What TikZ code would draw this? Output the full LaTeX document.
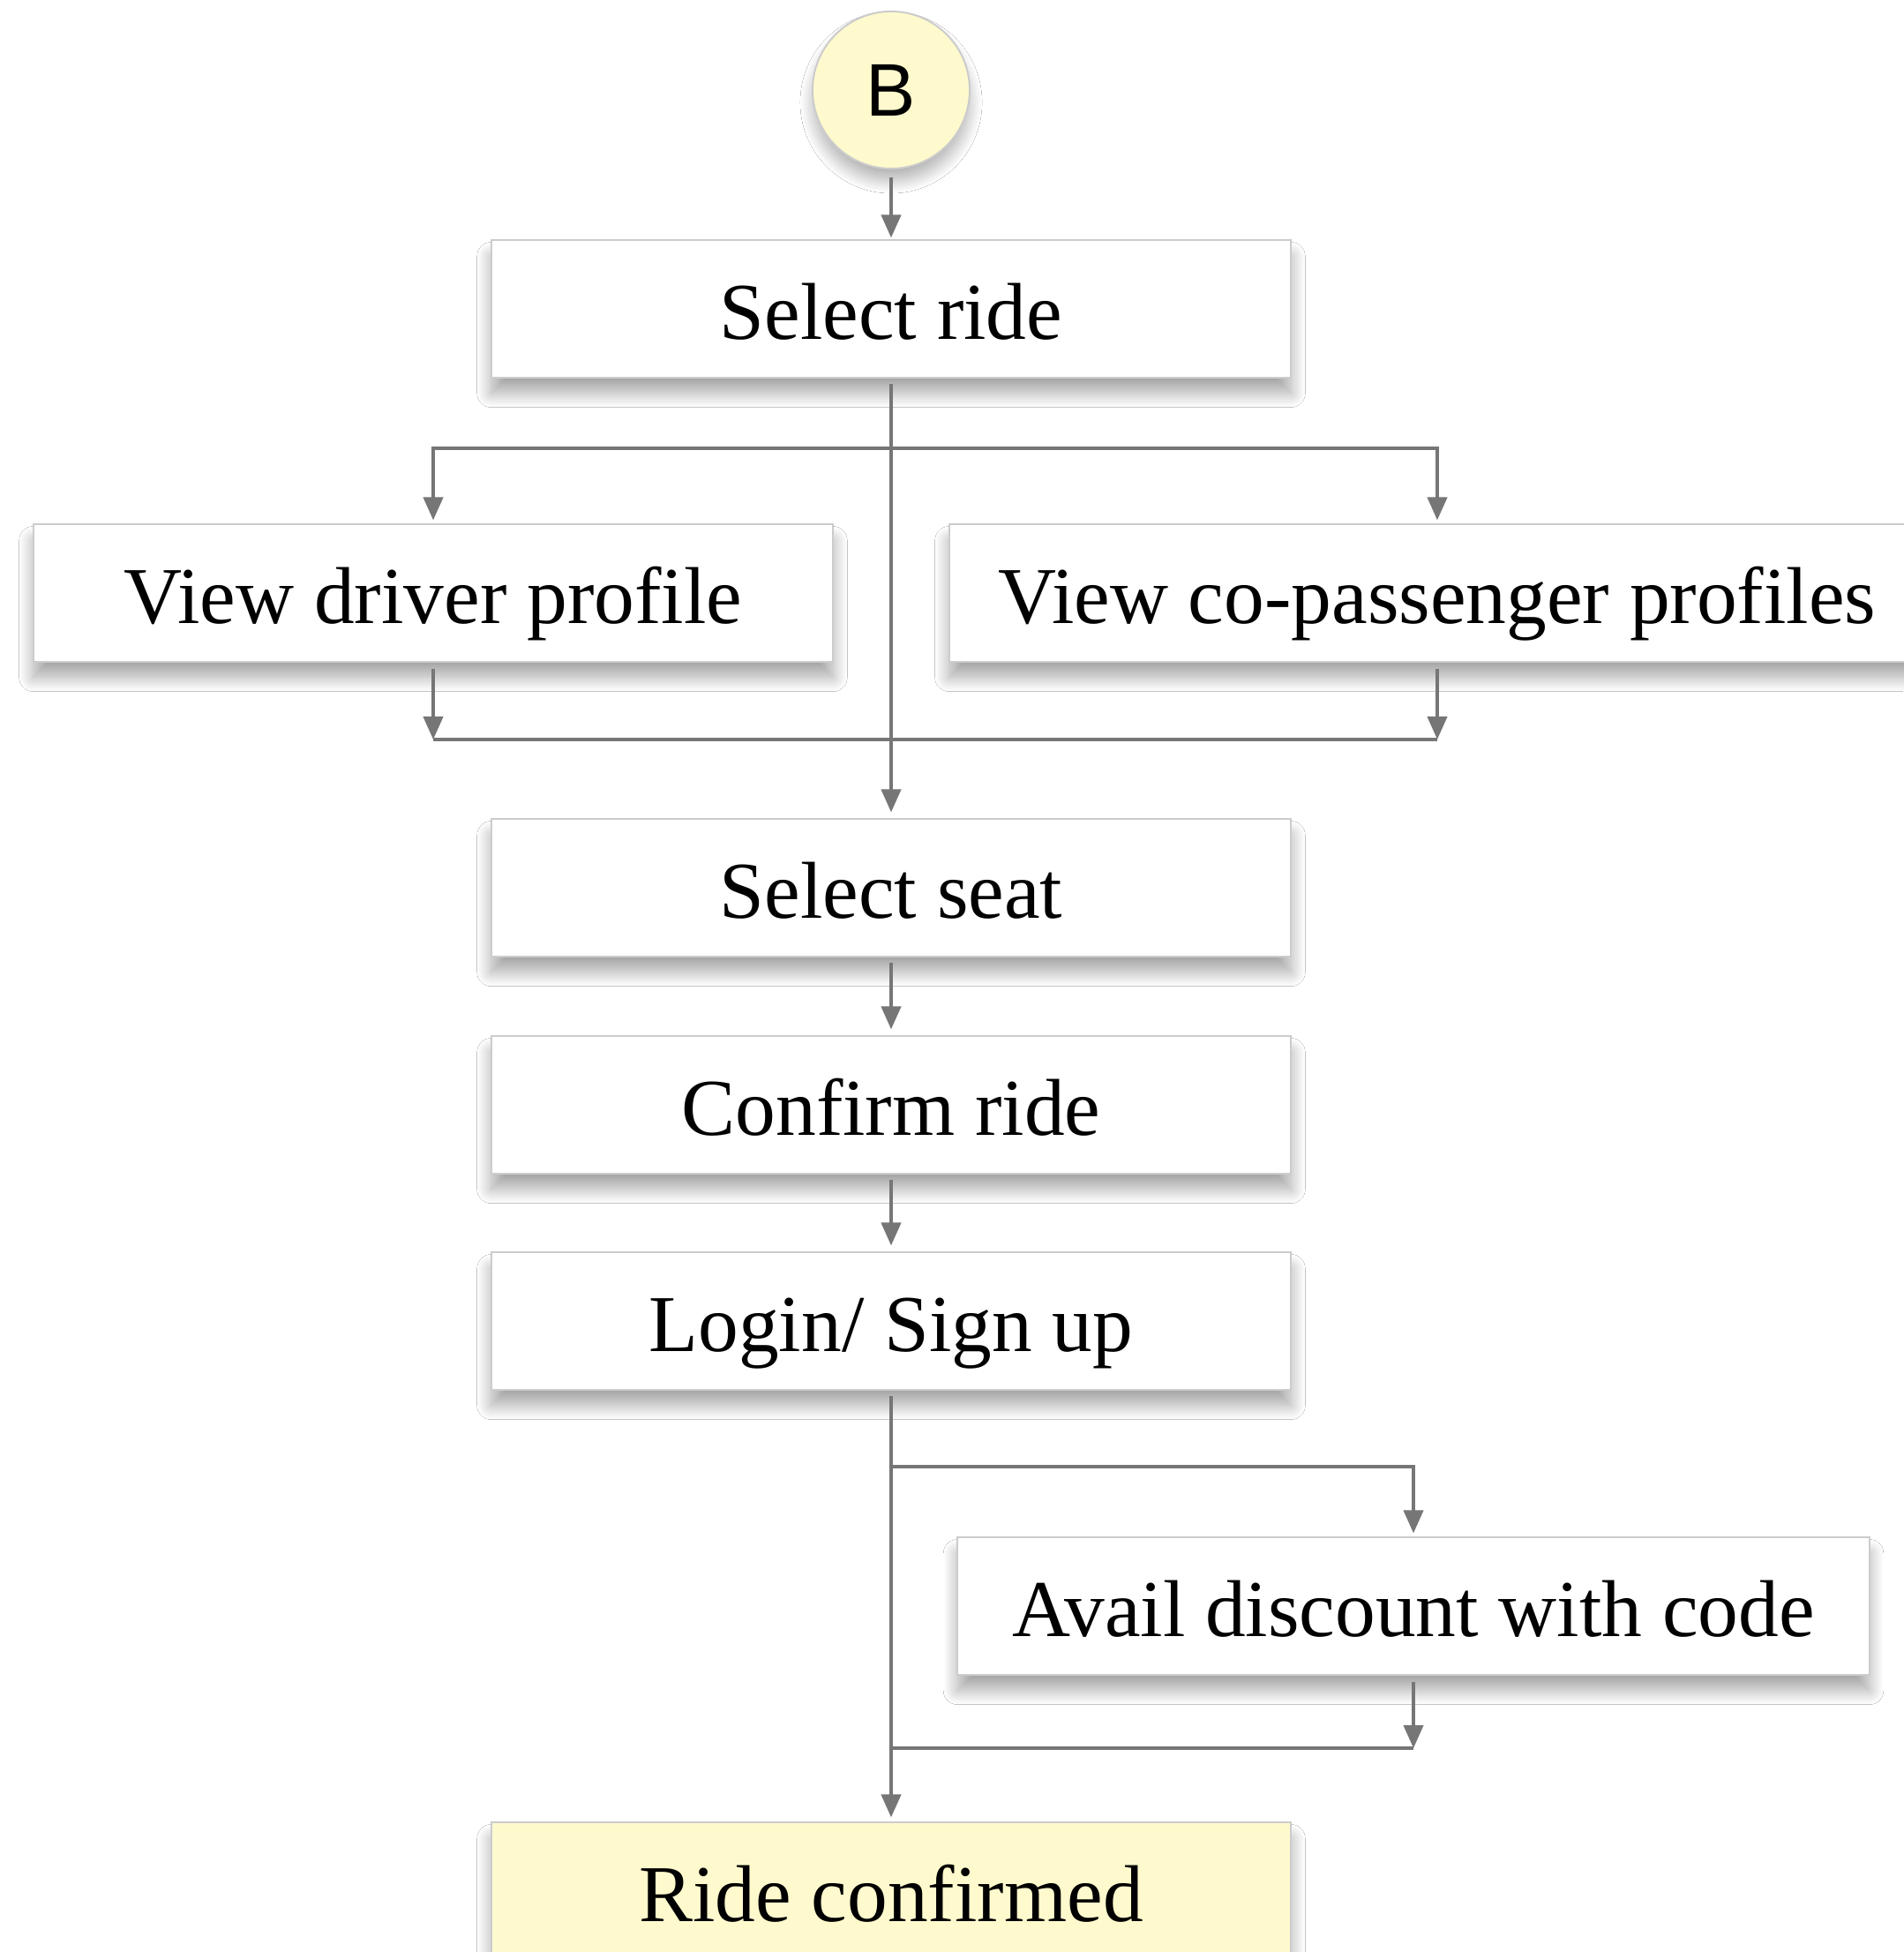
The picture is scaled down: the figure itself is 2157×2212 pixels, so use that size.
\documentclass[tikz,border=0pt]{standalone}
\usepackage{fontspec}
\setmainfont{Liberation Serif}
\newfontfamily\labelsans{Liberation Sans}
\usetikzlibrary{arrows.meta,shadows.blur}

\definecolor{linkgray}{HTML}{767676}
\definecolor{framegray}{HTML}{CCCCCC}
\definecolor{paleyellow}{HTML}{FFFACD}

\tikzset{
  stepbox/.style={draw=framegray, line width=0.02cm, fill=white,
    minimum width=9.06cm, minimum height=1.55cm, inner xsep=0.1cm,
    text height=0.7cm, text depth=0.02cm,
    font=\fontsize{26}{30}\selectfont,
    blur shadow={shadow xshift=0cm, shadow yshift=-0.18cm,
      shadow blur radius=0.16cm, shadow blur extra rounding=0pt,
      shadow blur steps=20, shadow opacity=35}},
  endbox/.style={stepbox, fill=paleyellow},
  startdot/.style={circle, draw=framegray, line width=0.02cm, fill=paleyellow,
    minimum size=1.78cm, inner sep=0pt,
    font=\labelsans\fontsize{24}{28}\selectfont,
    blur shadow={shadow xshift=0cm, shadow yshift=-0.14cm,
      shadow blur radius=0.14cm, shadow blur steps=20, shadow opacity=30}},
  link/.style={draw=linkgray, line width=0.04cm,
    -{Triangle[length=0.26cm,width=0.22cm]}},
  plain/.style={draw=linkgray, line width=0.04cm}
}

\begin{document}
\begin{tikzpicture}[x=0.01cm,y=-0.01cm]
\useasboundingbox[fill=white] (0,0) rectangle (2157,2212);

% nodes
\node[startdot] (b) at (1010,102) {B};
\node[stepbox] (ride) at (1010,350) {Select ride};
\node[stepbox] (driver) at (491,672) {View driver profile};
\node[stepbox, minimum width=11.06cm] (copass) at (1629,672) {View co-passenger profiles};
\node[stepbox] (seat) at (1010,1006) {Select seat};
\node[stepbox] (confirm) at (1010,1252) {Confirm ride};
\node[stepbox] (login) at (1010,1497) {Login/ Sign up};
\node[stepbox, minimum width=10.33cm] (disc) at (1602,1820) {Avail discount with code};
\node[endbox] (done) at (1010,2143) {Ride confirmed};

\coordinate (split1) at (1010,508);
\coordinate (join1) at (1010,838);
\coordinate (split2) at (1010,1662);
\coordinate (join2) at (1010,1981);

% connectors
\draw[link, shorten <=0.09cm, shorten >=0.02cm] (b) -- (ride);
\draw[link, shorten <=0.06cm, shorten >=0.07cm] (ride) -- (seat);
\draw[link, shorten >=0.04cm] (split1) -| (driver.north);
\draw[link, shorten >=0.04cm] (split1) -| (copass.north);
\draw[link, shorten <=0.07cm] (driver.south) -- (driver.south |- join1);
\draw[link, shorten <=0.07cm] (copass.south) -- (copass.south |- join1);
\draw[plain] (driver.south |- join1) -- (copass.south |- join1);

\draw[link, shorten <=0.06cm, shorten >=0.07cm] (seat) -- (confirm);
\draw[link, shorten <=0.06cm, shorten >=0.07cm] (confirm) -- (login);
\draw[link, shorten <=0.06cm, shorten >=0.05cm] (login) -- (done);
\draw[link, shorten >=0.04cm] (split2) -| (disc.north);
\draw[link, shorten <=0.07cm] (disc.south) -- (disc.south |- join2);
\draw[plain] (join2) -- (disc.south |- join2);
\end{tikzpicture}
\end{document}
